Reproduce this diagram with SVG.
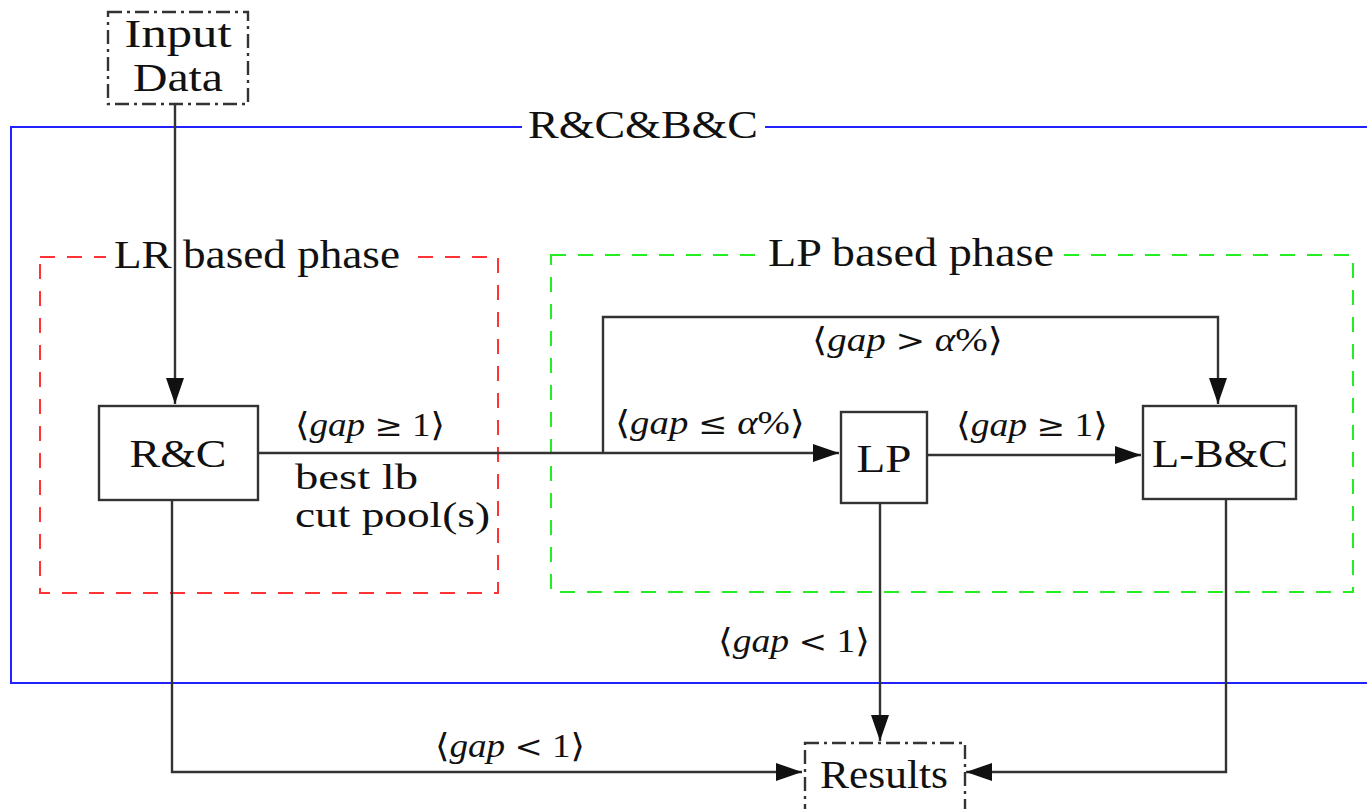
<svg xmlns="http://www.w3.org/2000/svg" width="1367" height="809" viewBox="0 0 1367 809">
<style>
text{font-family:"Liberation Serif","DejaVu Serif",serif;fill:#111}
.lbl{font-size:39px}
.sm{font-size:35px}
.m{font-size:33px}
.i{font-style:italic}
.op{font-family:"DejaVu Serif",serif;font-size:30px}
.box{fill:#fff;stroke:#333;stroke-width:2.4}
.dd{fill:#fff;stroke:#333;stroke-width:2.4;stroke-dasharray:14 5 3 5}
.ln{fill:none;stroke:#333;stroke-width:2.4}
</style>
<defs>
<marker id="ah" markerUnits="userSpaceOnUse" markerWidth="28" markerHeight="20" refX="26" refY="9" orient="auto">
<path d="M0,0 L26,9 L0,18 Z" fill="#111"/>
</marker>
</defs>
<rect width="1367" height="809" fill="#fff"/>
<g id="frames">
<rect x="11" y="127" width="1380" height="556" fill="none" stroke="#2222ff" stroke-width="2"/>
<rect x="522" y="110" width="243" height="34" fill="#fff"/>
<text class="lbl" x="643" y="138" text-anchor="middle" textLength="230" lengthAdjust="spacingAndGlyphs">R&amp;C&amp;B&amp;C</text>
<rect x="40" y="257" width="458" height="336" fill="none" stroke="#ff3333" stroke-width="2" stroke-dasharray="15 12"/>
<rect x="106" y="240" width="302" height="34" fill="#fff"/>
<text class="lbl" x="257" y="268" text-anchor="middle" textLength="286" lengthAdjust="spacingAndGlyphs">LR based phase</text>
<rect x="551" y="255" width="802" height="337" fill="none" stroke="#22ee22" stroke-width="2" stroke-dasharray="15 12"/>
<rect x="760" y="238" width="302" height="34" fill="#fff"/>
<text class="lbl" x="911" y="266" text-anchor="middle" textLength="286" lengthAdjust="spacingAndGlyphs">LP based phase</text>
</g>
<g id="connectors">
<path class="ln" d="M175,104 V404" marker-end="url(#ah)"/>
<path class="ln" d="M258,453 H839" marker-end="url(#ah)"/>
<path class="ln" d="M603,453 V317 H1218 V404" marker-end="url(#ah)"/>
<path class="ln" d="M927,455 H1141" marker-end="url(#ah)"/>
<path class="ln" d="M880,503 V741" marker-end="url(#ah)"/>
<path class="ln" d="M172,500 V772 H802" marker-end="url(#ah)"/>
<path class="ln" d="M1226,499 V772 H966" marker-end="url(#ah)"/>
<text class="m" x="295" y="436" textLength="150" lengthAdjust="spacingAndGlyphs">⟨<tspan class="i">gap</tspan> <tspan class="op">≥</tspan> 1⟩</text>
<text class="sm" x="295" y="489" textLength="123" lengthAdjust="spacingAndGlyphs">best lb</text>
<text class="sm" x="295" y="527" textLength="195" lengthAdjust="spacingAndGlyphs">cut pool(s)</text>
<text class="m" x="615" y="434" textLength="190" lengthAdjust="spacingAndGlyphs">⟨<tspan class="i">gap</tspan> <tspan class="op">≤</tspan> <tspan class="i">α</tspan>%⟩</text>
<text class="m" x="812" y="351" textLength="191" lengthAdjust="spacingAndGlyphs">⟨<tspan class="i">gap</tspan> <tspan class="op">&gt;</tspan> <tspan class="i">α</tspan>%⟩</text>
<text class="m" x="956" y="436" textLength="152" lengthAdjust="spacingAndGlyphs">⟨<tspan class="i">gap</tspan> <tspan class="op">≥</tspan> 1⟩</text>
<text class="m" x="718" y="652" textLength="152" lengthAdjust="spacingAndGlyphs">⟨<tspan class="i">gap</tspan> <tspan class="op">&lt;</tspan> 1⟩</text>
<text class="m" x="435" y="757" textLength="150" lengthAdjust="spacingAndGlyphs">⟨<tspan class="i">gap</tspan> <tspan class="op">&lt;</tspan> 1⟩</text>
</g>
<g id="input">
<rect class="dd" x="108" y="12" width="140" height="92"/>
<text class="lbl" x="178" y="47" text-anchor="middle" textLength="107" lengthAdjust="spacingAndGlyphs">Input</text>
<text class="lbl" x="178" y="91" text-anchor="middle" textLength="90" lengthAdjust="spacingAndGlyphs">Data</text>
</g>
<g id="rc">
<rect class="box" x="99" y="406" width="159" height="94"/>
<text class="lbl" x="178" y="467" text-anchor="middle" textLength="97" lengthAdjust="spacingAndGlyphs">R&amp;C</text>
</g>
<g id="lp">
<rect class="box" x="841" y="412" width="86" height="91"/>
<text class="lbl" x="884" y="472" text-anchor="middle" textLength="55" lengthAdjust="spacingAndGlyphs">LP</text>
</g>
<g id="lbc">
<rect class="box" x="1143" y="406" width="153" height="93"/>
<text class="lbl" x="1220" y="467" text-anchor="middle" textLength="136" lengthAdjust="spacingAndGlyphs">L-B&amp;C</text>
</g>
<g id="results">
<rect class="dd" x="805" y="743" width="160" height="80"/>
<text class="lbl" x="884" y="788" text-anchor="middle" textLength="128" lengthAdjust="spacingAndGlyphs">Results</text>
</g>
</svg>
